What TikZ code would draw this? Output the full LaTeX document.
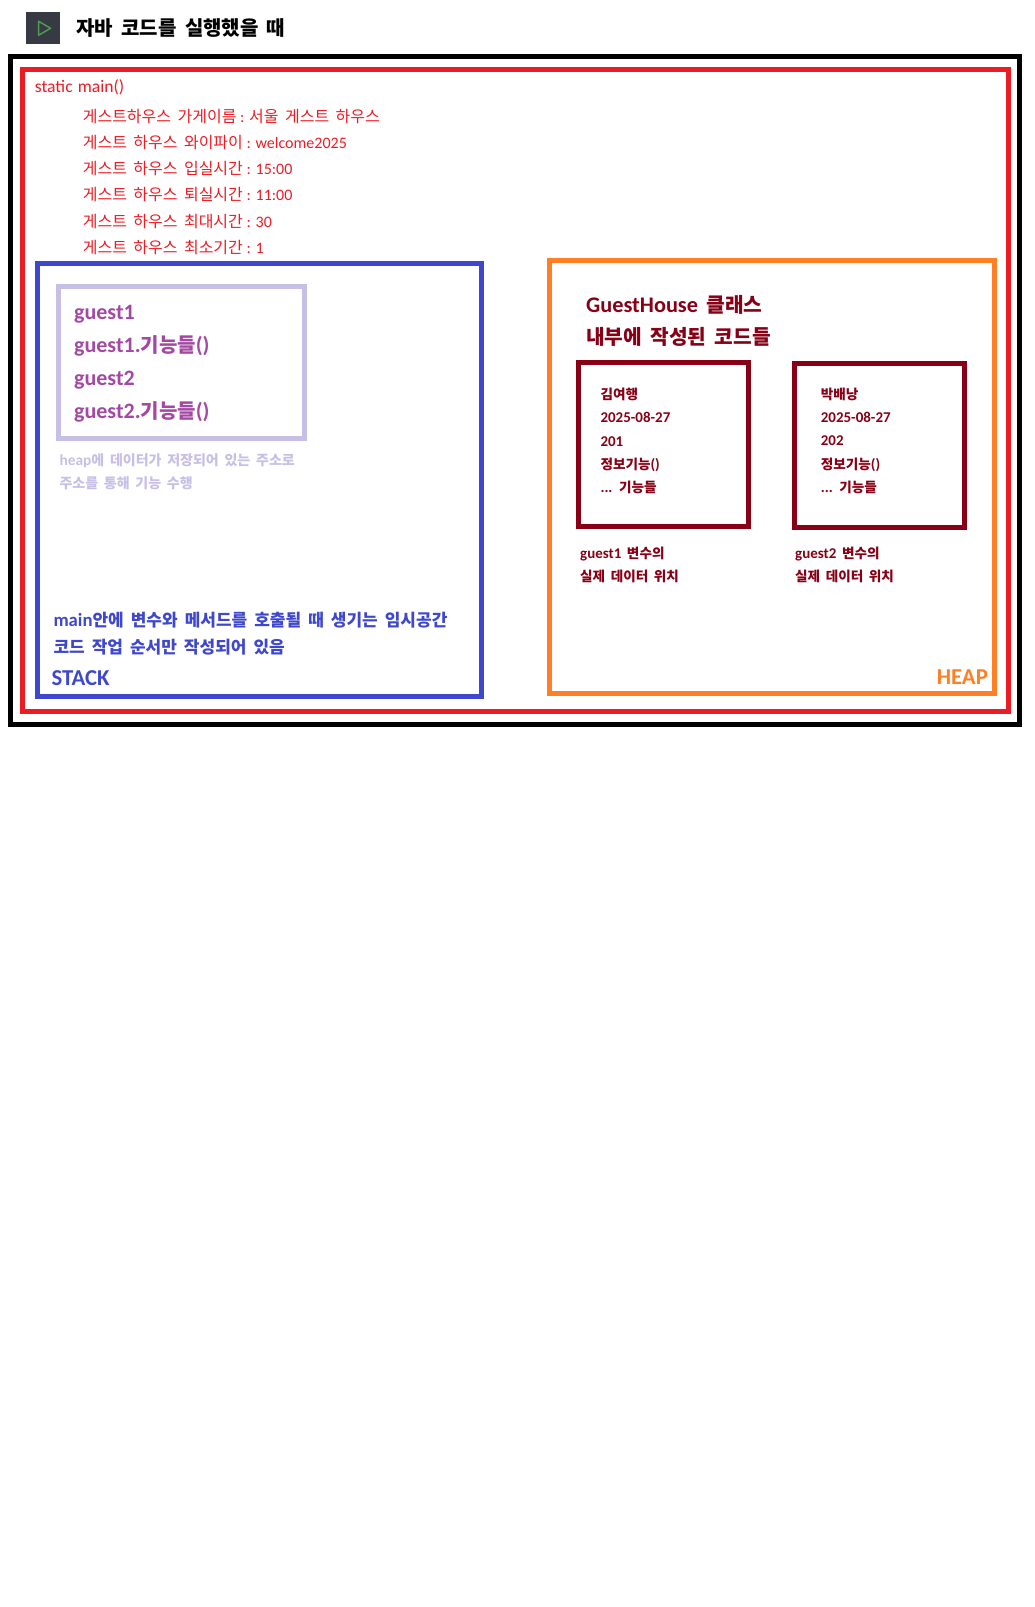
\documentclass[tikz,border=0pt]{standalone}
\usepackage{fontspec}
\setmainfont[WordSpace=1.8]{Noto Sans CJK KR}
\newfontfamily\latinfont[Scale=1.1, WordSpace=1.3]{Carlito}
\newfontfamily\latinsmall[Scale=1.0, WordSpace=1.0]{Carlito}
\newcommand{\en}[1]{{\latinfont #1}}
\newcommand{\enn}[1]{{\latinsmall #1}}
\usetikzlibrary{positioning, calc}
\definecolor{mainred}{HTML}{ED1C24}
\definecolor{stackblue}{HTML}{3F48CC}
\definecolor{heaporange}{HTML}{FF7F27}
\definecolor{darkred}{HTML}{880015}
\definecolor{lavender}{HTML}{C8BFE7}
\definecolor{varpurple}{HTML}{A349A4}
\definecolor{icongray}{HTML}{373A42}
\definecolor{icongreen}{HTML}{4F9A55}
\tikzset{
	framebox/.style={rectangle, inner sep=0pt, outer sep=0pt, line width=3.75pt},
	memo/.style={inner sep=0pt, outer sep=0pt, align=left},
	% text sizes, baseline distance as in the picture
	titletext/.style={memo, font=\fontsize{15}{20}\selectfont\bfseries},
	maintext/.style={memo, text=mainred, font=\fontsize{12}{19.55}\selectfont},
	vartext/.style={memo, text=varpurple, font=\fontsize{15}{24.75}\selectfont\bfseries},
	hinttext/.style={memo, text=lavender, font=\fontsize{10.5}{17.25}\selectfont\bfseries},
	stacktext/.style={memo, text=stackblue, font=\fontsize{12.75}{20}\selectfont\bfseries},
	heaptext/.style={memo, text=darkred, font=\fontsize{15.2}{24}\selectfont\bfseries},
	cardtext/.style={memo, text=darkred, font=\fontsize{10.2}{17.5}\selectfont\bfseries},
	areatext/.style={memo, font=\fontsize{15.5}{18}\selectfont\bfseries},
}
\begin{document}
\begin{tikzpicture}[x=0.75pt, y=-0.75pt]
	\useasboundingbox (0,0) rectangle (1035,1607);
	% run button and title
	\node[rectangle, fill=icongray, inner sep=0pt, minimum width=25.5pt, minimum height=24pt, anchor=north west](playicon) at (26,12){};
	\draw[icongreen, line width=1.1pt, line join=round]($(playicon.center)+(-3.5pt,-5.25pt)$)--($(playicon.center)+(5.5pt,0pt)$)--($(playicon.center)+(-3.5pt,5.25pt)$)--cycle;
	\node[titletext, right=12pt of playicon.east](title){자바 코드를 실행했을 때};
	% frames
	\node[framebox, draw=black, minimum width=756.75pt, minimum height=501pt, anchor=north west](outerbox) at (10.5,56.5){};
	\node[framebox, draw=mainred, minimum width=739.5pt, minimum height=481.5pt, below right=9.75pt and 9pt of outerbox.north west](mainbox){};
	\node[framebox, draw=stackblue, minimum width=333pt, minimum height=324.75pt, below right=145.5pt and 11.25pt of mainbox.north west](stackbox){};
	\node[framebox, draw=lavender, minimum width=184.5pt, minimum height=114pt, below right=17.25pt and 15.75pt of stackbox.north west](varbox){};
	\node[framebox, draw=heaporange, minimum width=333.75pt, minimum height=324.75pt, below right=-2.25pt and 51pt of stackbox.north east](heapbox){};
	\node[framebox, draw=darkred, minimum width=127.5pt, minimum height=123pt, below right=76.5pt and 21.75pt of heapbox.north west](cardone){};
	\node[framebox, draw=darkred, minimum width=127.5pt, minimum height=123pt, below right=0.75pt and 34.5pt of cardone.north east](cardtwo){};
	% main method
	\node[maintext, below right=7.5pt and 9.25pt of mainbox.north west](mainname){\en{static main()}};
	\node[maintext, below right=30pt and 45.25pt of mainbox.north west](mainfields){게스트하우스 가게이름\enn{ : }서울 게스트 하우스\\게스트 하우스 와이파이\enn{ : welcome2025}\\게스트 하우스 입실시간\enn{ : 15:00}\\게스트 하우스 퇴실시간\enn{ : 11:00}\\게스트 하우스 최대시간\enn{ : 30}\\게스트 하우스 최소기간\enn{ : 1}};
	% stack
	\node[vartext, below right=13.75pt and 11.75pt of varbox.north west](varlist){\en{guest1}\\\en{guest1.}기능들\en{()}\\\en{guest2}\\\en{guest2.}기능들\en{()}};
	\node[hinttext, below right=11pt and 0.75pt of varbox.south west](varhint){\en{heap}에 데이터가 저장되어 있는 주소로\\주소를 통해 기능 수행};
	\node[stacktext, below right=261.5pt and 12pt of stackbox.north west](stacknote){\en{main}안에 변수와 메서드를 호출될 때 생기는 임시공간\\코드 작업 순서만 작성되어 있음};
	\node[areatext, text=stackblue, above right=8.5pt and 10.5pt of stackbox.south west](stacklabel){\en{STACK}};
	% heap
	\node[heaptext, below right=26.25pt and 27.5pt of heapbox.north west](heaptitle){\en{GuestHouse} 클래스\\내부에 작성된 코드들};
	\node[cardtext, below right=19pt and 16.5pt of cardone.north west](cardonetext){김여행\\\en{2025-08-27}\\\en{201}\\정보기능\en{()}\\\en{...} 기능들};
	\node[cardtext, below right=18.25pt and 19.75pt of cardtwo.north west](cardtwotext){박배낭\\\en{2025-08-27}\\\en{202}\\정보기능\en{()}\\\en{...} 기능들};
	\node[cardtext, below right=15pt and 1.25pt of cardone.south west](cardonenote){\en{guest1} 변수의\\실제 데이터 위치};
	\node[cardtext, below right=14.25pt and 0.5pt of cardtwo.south west](cardtwonote){\en{guest2} 변수의\\실제 데이터 위치};
	\node[areatext, text=heaporange, above left=7pt and 5pt of heapbox.south east](heaplabel){\en{HEAP}};
\end{tikzpicture}
\end{document}
